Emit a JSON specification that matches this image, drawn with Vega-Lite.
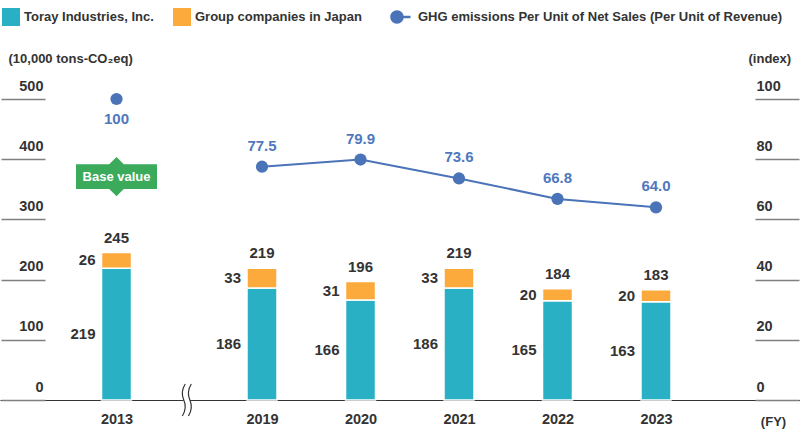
{
  "$schema": "https://vega.github.io/schema/vega-lite/v6.json",
  "width": 800,
  "height": 301,
  "autosize": {"type": "none"},
  "padding": {"left": 0, "top": 99, "right": 0, "bottom": 33},
  "background": "white",
  "config": {"view": {"stroke": null}},
  "datasets": {
    "bars": [
      {"year": 2013, "company": "Toray Industries, Inc.", "value": 219},
      {"year": 2013, "company": "Group companies in Japan", "value": 26},
      {"year": 2019, "company": "Toray Industries, Inc.", "value": 186},
      {"year": 2019, "company": "Group companies in Japan", "value": 33},
      {"year": 2020, "company": "Toray Industries, Inc.", "value": 166},
      {"year": 2020, "company": "Group companies in Japan", "value": 31},
      {"year": 2021, "company": "Toray Industries, Inc.", "value": 186},
      {"year": 2021, "company": "Group companies in Japan", "value": 33},
      {"year": 2022, "company": "Toray Industries, Inc.", "value": 165},
      {"year": 2022, "company": "Group companies in Japan", "value": 20},
      {"year": 2023, "company": "Toray Industries, Inc.", "value": 163},
      {"year": 2023, "company": "Group companies in Japan", "value": 20}
    ],
    "totals": [
      {"year": 2013, "total": 245},
      {"year": 2019, "total": 219},
      {"year": 2020, "total": 196},
      {"year": 2021, "total": 219},
      {"year": 2022, "total": 184},
      {"year": 2023, "total": 183}
    ],
    "index": [
      {"year": 2013, "index": 100, "series": "GHG emissions Per Unit of Net Sales (Per Unit of Revenue)"},
      {"year": 2019, "index": 77.5, "series": "GHG emissions Per Unit of Net Sales (Per Unit of Revenue)"},
      {"year": 2020, "index": 79.9, "series": "GHG emissions Per Unit of Net Sales (Per Unit of Revenue)"},
      {"year": 2021, "index": 73.6, "series": "GHG emissions Per Unit of Net Sales (Per Unit of Revenue)"},
      {"year": 2022, "index": 66.8, "series": "GHG emissions Per Unit of Net Sales (Per Unit of Revenue)"},
      {"year": 2023, "index": 64.0, "series": "GHG emissions Per Unit of Net Sales (Per Unit of Revenue)"}
    ]
  },
  "layer": [
    {
      "data": {"name": "bars"},
      "mark": {"type": "bar", "width": 30, "stroke": "white", "strokeWidth": 1.5},
      "encoding": {
        "x": {
          "field": "year",
          "type": "quantitative",
          "scale": {"domain": [2008, 2013, 2019, 2023, 2025], "range": [0, 116.5, 262, 656, 800], "zero": false, "nice": false},
          "axis": {
            "values": [2013, 2019, 2020, 2021, 2022, 2023],
            "format": "d",
            "ticks": false,
            "grid": false,
            "domainColor": "#333333",
            "domainWidth": 1.2,
            "labelPadding": 12,
            "labelFont": "Liberation Sans",
            "labelFontSize": 14.5,
            "labelFontWeight": "bold",
            "labelColor": "#333333",
            "labelFlush": false,
            "title": "(FY)",
            "titleFont": "Liberation Sans",
            "titleFontSize": 13,
            "titleFontWeight": "bold",
            "titleColor": "#333333",
            "titleX": 773,
            "titleY": 21.5,
            "titleAlign": "center",
            "titleBaseline": "middle"
          }
        },
        "y": {
          "field": "value",
          "type": "quantitative",
          "stack": "zero",
          "scale": {"domain": [0, 500], "nice": false},
          "axis": {
            "orient": "left",
            "offset": -45,
            "values": [0, 100, 200, 300, 400, 500],
            "domain": false,
            "grid": false,
            "tickSize": 44,
            "tickColor": "#808080",
            "tickWidth": 1.3,
            "labelAlign": "right",
            "labelBaseline": "alphabetic",
            "labelPadding": -42,
            "labelOffset": -9,
            "labelFont": "Liberation Sans",
            "labelFontSize": 14.5,
            "labelFontWeight": "bold",
            "labelColor": "#333333",
            "labelFlush": false,
            "title": "(10,000 tons-CO₂eq)",
            "titleAngle": 0,
            "titleAlign": "left",
            "titleBaseline": "middle",
            "titleX": -37,
            "titleY": -41,
            "titleFont": "Liberation Sans",
            "titleFontSize": 13,
            "titleFontWeight": "bold",
            "titleColor": "#333333"
          }
        },
        "color": {
          "field": "company",
          "type": "nominal",
          "scale": {
            "domain": ["Toray Industries, Inc.", "Group companies in Japan"],
            "range": ["#29B0C5", "#FDAA3C"]
          },
          "legend": {
            "title": null,
            "orient": "none",
            "legendX": 2,
            "legendY": -91,
            "direction": "horizontal",
            "padding": 0,
            "symbolType": "square",
            "symbolSize": 324,
            "symbolStrokeWidth": 0,
            "symbolOpacity": 1,
            "labelFont": "Liberation Sans",
            "labelFontSize": 13,
            "labelFontWeight": "bold",
            "labelColor": "#333333",
            "labelOffset": 4,
            "labelLimit": 600,
            "columnPadding": 19
          }
        },
        "order": {"field": "company", "sort": "descending"}
      }
    },
    {
      "data": {"name": "bars"},
      "mark": {"type": "text", "align": "right", "baseline": "middle", "dx": -21, "font": "Liberation Sans", "fontSize": 15, "fontWeight": "bold", "color": "#333333"},
      "encoding": {
        "x": {"field": "year", "type": "quantitative"},
        "y": {"field": "value", "type": "quantitative", "stack": "zero", "bandPosition": 0.5, "scale": {"domain": [0, 500], "nice": false}, "axis": null},
        "detail": {"field": "company"},
        "order": {"field": "company", "sort": "descending"},
        "text": {"field": "value", "type": "quantitative"}
      }
    },
    {
      "data": {"name": "totals"},
      "mark": {"type": "text", "align": "center", "baseline": "middle", "dy": -15, "font": "Liberation Sans", "fontSize": 15, "fontWeight": "bold", "color": "#333333"},
      "encoding": {
        "x": {"field": "year", "type": "quantitative"},
        "y": {"field": "total", "type": "quantitative", "scale": {"domain": [0, 500], "nice": false}, "axis": null},
        "text": {"field": "total", "type": "quantitative"}
      }
    },
    {
      "data": {"name": "totals"},
      "transform": [{"filter": "datum.year == 2013"}],
      "mark": {"type": "point", "shape": "M -0.2 -0.3 L 0.2 -0.3 L 0.2 0.3 L -0.2 0.3 Z", "size": 1024, "filled": true, "color": "white", "opacity": 1, "strokeWidth": 0},
      "encoding": {
        "x": {"datum": 2015.9, "type": "quantitative"},
        "y": {"datum": 0, "type": "quantitative", "scale": {"domain": [0, 500], "nice": false}, "axis": null}
      }
    },
    {
      "data": {"name": "totals"},
      "transform": [{"filter": "datum.year == 2013"}],
      "mark": {"type": "point", "shape": "M -0.1 -1 C -0.35 -0.6 -0.3 -0.25 -0.19 0 C -0.08 0.25 -0.03 0.6 -0.28 1 M 0.28 -1 C 0.03 -0.6 0.08 -0.25 0.19 0 C 0.3 0.25 0.35 0.6 0.1 1", "size": 1024, "filled": false, "color": "#333333", "opacity": 1, "strokeWidth": 1.2},
      "encoding": {
        "x": {"datum": 2015.9, "type": "quantitative"},
        "y": {"datum": 0, "type": "quantitative", "scale": {"domain": [0, 500], "nice": false}, "axis": null}
      }
    },
    {
      "data": {"name": "totals"},
      "transform": [{"filter": "datum.year == 2013"}],
      "mark": {"type": "point", "shape": "M -1 -0.305 L -0.18 -0.305 L 0 -0.485 L 0.18 -0.305 L 1 -0.305 L 1 0.305 L 0.18 0.305 L 0 0.485 L -0.18 0.305 L -1 0.305 Z", "size": 6561, "filled": true, "color": "#3CAA5B", "opacity": 1, "strokeWidth": 0},
      "encoding": {
        "x": {"field": "year", "type": "quantitative"},
        "y": {"datum": 371, "type": "quantitative", "scale": {"domain": [0, 500], "nice": false}, "axis": null}
      }
    },
    {
      "data": {"name": "totals"},
      "transform": [{"filter": "datum.year == 2013"}],
      "mark": {"type": "text", "text": "Base value", "align": "center", "baseline": "middle", "font": "Liberation Sans", "fontSize": 13, "fontWeight": "bold", "color": "white"},
      "encoding": {
        "x": {"field": "year", "type": "quantitative"},
        "y": {"datum": 371, "type": "quantitative", "scale": {"domain": [0, 500], "nice": false}, "axis": null}
      }
    },
    {
      "data": {"name": "index"},
      "transform": [{"filter": "datum.year >= 2019"}],
      "mark": {"type": "line", "color": "#4A73B8", "strokeWidth": 2},
      "encoding": {
        "x": {"field": "year", "type": "quantitative"},
        "y": {
          "field": "index",
          "type": "quantitative",
          "scale": {"domain": [0, 100], "nice": false},
          "axis": {
            "orient": "right",
            "offset": -45,
            "values": [0, 20, 40, 60, 80, 100],
            "domain": false,
            "grid": false,
            "tickSize": 44,
            "tickColor": "#808080",
            "tickWidth": 1.3,
            "labelAlign": "left",
            "labelBaseline": "alphabetic",
            "labelPadding": -43,
            "labelOffset": -9,
            "labelFont": "Liberation Sans",
            "labelFontSize": 14.5,
            "labelFontWeight": "bold",
            "labelColor": "#333333",
            "labelFlush": false,
            "title": "(index)",
            "titleAngle": 0,
            "titleAlign": "left",
            "titleBaseline": "middle",
            "titleX": -7,
            "titleY": -41,
            "titleFont": "Liberation Sans",
            "titleFontSize": 13,
            "titleFontWeight": "bold",
            "titleColor": "#333333"
          }
        }
      }
    },
    {
      "data": {"name": "index"},
      "mark": {"type": "point", "filled": true, "size": 150, "opacity": 1},
      "encoding": {
        "x": {"field": "year", "type": "quantitative"},
        "y": {"field": "index", "type": "quantitative", "scale": {"domain": [0, 100], "nice": false}, "axis": null},
        "color": {
          "field": "series",
          "type": "nominal",
          "scale": {"range": ["#4A73B8"]},
          "legend": {
            "title": null,
            "orient": "none",
            "legendX": 388,
            "legendY": -91,
            "direction": "horizontal",
            "padding": 0,
            "symbolType": "M -0.75 0 A 0.75 0.75 0 1 0 0.75 0 A 0.75 0.75 0 1 0 -0.75 0 Z M 0.74 -0.13 L 1.5 -0.13 L 1.5 0.13 L 0.74 0.13 Z",
            "symbolSize": 324,
            "symbolStrokeWidth": 0,
            "symbolOpacity": 1,
            "labelFont": "Liberation Sans",
            "labelFontSize": 13,
            "labelFontWeight": "bold",
            "labelColor": "#333333",
            "labelOffset": 12,
            "labelLimit": 600
          }
        }
      }
    },
    {
      "data": {"name": "index"},
      "transform": [{"filter": "datum.year >= 2019"}],
      "mark": {"type": "text", "align": "center", "baseline": "middle", "dy": -21, "font": "Liberation Sans", "fontSize": 15, "fontWeight": "bold", "color": "#4F78BD"},
      "encoding": {
        "x": {"field": "year", "type": "quantitative"},
        "y": {"field": "index", "type": "quantitative", "scale": {"domain": [0, 100], "nice": false}, "axis": null},
        "text": {"field": "index", "type": "quantitative", "format": ".1f"}
      }
    },
    {
      "data": {"name": "index"},
      "transform": [{"filter": "datum.year == 2013"}],
      "mark": {"type": "text", "align": "center", "baseline": "middle", "dy": 20, "font": "Liberation Sans", "fontSize": 15, "fontWeight": "bold", "color": "#4F78BD"},
      "encoding": {
        "x": {"field": "year", "type": "quantitative"},
        "y": {"field": "index", "type": "quantitative", "scale": {"domain": [0, 100], "nice": false}, "axis": null},
        "text": {"field": "index", "type": "quantitative", "format": "d"}
      }
    }
  ],
  "resolve": {"scale": {"y": "independent", "color": "independent"}}
}
